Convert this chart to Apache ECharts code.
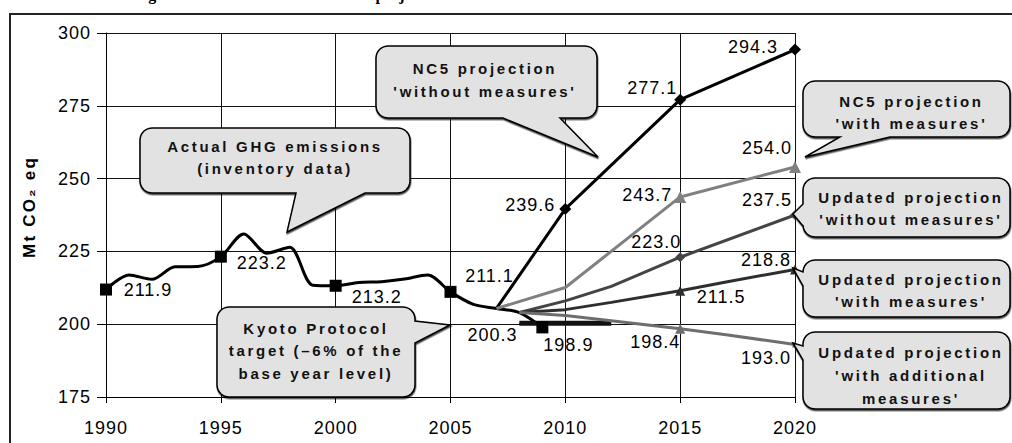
<!DOCTYPE html>
<html>
<head>
<meta charset="utf-8">
<script src="https://cdn.jsdelivr.net/npm/echarts@6/dist/echarts.min.js"></script>
<style>
html,body{margin:0;padding:0;background:#fff;}
#c{width:1012px;height:443px;}
text[style*="xcallout"]{letter-spacing:2.7px;}
text[style*="xnum"]{letter-spacing:1px;}
text[style*="xaxisname"]{letter-spacing:2.2px;}
</style>
</head>
<body>
<div id="c"></div>
<script>
// ---------------- DATA ----------------
const actualYears  = [1990,1991,1992,1993,1994,1995,1996,1997,1998,1999,2000,2001,2002,2003,2004,2005,2006,2007,2008,2009];
const actualValues = [211.9,216.9,215.4,219.7,219.8,223.2,231.0,224.4,226.4,213.4,213.2,214.3,214.6,215.5,216.9,211.1,206.8,205.4,204.0,198.9];
const actualMarkerYears = [1990,1995,2000,2005,2009];

const kyotoYears  = [2008,2012];
const kyotoValues = [200.3,200.3];

const nc5WithoutYears  = [2007,2010,2015,2020];
const nc5WithoutValues = [205.4,239.6,277.1,294.3];
const nc5WithYears  = [2007,2010,2015,2020];
const nc5WithValues = [205.4,212.6,243.7,254.0];
const updWithoutYears  = [2008,2010,2012,2015,2020];
const updWithoutValues = [204.0,208.0,213.0,223.0,237.5];
const updWithYears  = [2008,2010,2012,2015,2017,2020];
const updWithValues = [204.0,205.0,207.5,211.5,214.5,218.8];
const updAddYears  = [2008,2010,2012,2015,2017,2020];
const updAddValues = [204.0,203.0,201.2,198.4,196.4,193.0];

const xMin = 1990, xMax = 2020, xStep = 5;
const yMin = 175, yMax = 300, yStep = 25;
const yAxisTitle = 'Mt CO\u2082 eq';
const titleText = 'Changes in the total emissions and the projections';

const calloutTexts = {
  actual: ['Actual GHG emissions', '(inventory data)'],
  nc5Without: ['NC5 projection', "'without measures'"],
  nc5With: ['NC5 projection', "'with measures'"],
  updWithout: ['Updated projection', "'without measures'"],
  updWith: ['Updated projection', "'with measures'"],
  updAdd: ['Updated projection', "'with additional", "measures'"],
  kyoto: ['Kyoto Protocol', 'target (–6% of the', 'base year level)']
};

// ---------------- LAYOUT / STYLE ----------------
const SANS = 'Liberation Sans, Arial, sans-serif';
const labelOffset = {
  actual: {1990:[42,0],1995:[41,6],2000:[41,11],2005:[39,-16],2009:[26,18]},
  kyoto: {2008:[-27,12]},
  nc5Without: {2010:[-35,-4],2015:[-28,-12],2020:[-42,-3]},
  nc5With: {2015:[-33,-2],2020:[-28,-19]},
  updWithout: {2015:[-24,-15],2020:[-28,-15]},
  updWith: {2015:[41,6],2020:[-29,-9]},
  updAdd: {2015:[-25,13],2020:[-29,13]}
};

function buildData(years, values, markerYears, symbol, size, offsets, sizeOverride) {
  return years.map((yr, i) => {
    const item = { value: [yr, values[i]] };
    if (markerYears.indexOf(yr) >= 0) {
      item.symbol = symbol;
      item.symbolSize = (sizeOverride && sizeOverride[yr]) || size;
    } else {
      item.symbol = 'none';
    }
    if (offsets && offsets[yr]) {
      item.label = { show: true, position: 'inside', offset: offsets[yr] };
    }
    return item;
  });
}

const labelBase = {
  show: false,
  fontSize: 18,
  fontFamily: 'xnum, ' + SANS,
  color: '#000',
  textBorderWidth: 0,
  formatter: p => p.value[1].toFixed(1)
};

function lineSeries(name, data, color, width, smooth, z) {
  return {
    name, type: 'line', data, smooth: smooth || false,
    showSymbol: true, showAllSymbol: true, clip: false,
    lineStyle: { color, width },
    itemStyle: { color },
    label: Object.assign({}, labelBase),
    emphasis: { disabled: true },
    z: z || 2,
    animation: false
  };
}

const series = [
  lineSeries('Actual', buildData(actualYears, actualValues, actualMarkerYears, 'rect', 12, labelOffset.actual), '#000', 3, 0.3, 3),
  lineSeries('Kyoto', buildData(kyotoYears, kyotoValues, [2008], 'rect', 1, labelOffset.kyoto), '#111', 5, false, 3),
  lineSeries('NC5 without', buildData(nc5WithoutYears, nc5WithoutValues, [2010,2015,2020], 'diamond', 12, labelOffset.nc5Without), '#000', 3, false, 4),
  lineSeries('NC5 with', buildData(nc5WithYears, nc5WithValues, [2015,2020], 'triangle', 12, labelOffset.nc5With), '#808080', 3, false, 4),
  lineSeries('Updated without', buildData(updWithoutYears, updWithoutValues, [2015,2020], 'diamond', 10, labelOffset.updWithout), '#444444', 3, false, 4),
  lineSeries('Updated with', buildData(updWithYears, updWithValues, [2015,2020], 'triangle', 10, labelOffset.updWith), '#2e2e2e', 3, false, 4),
  lineSeries('Updated additional', buildData(updAddYears, updAddValues, [2015,2020], 'triangle', 10, labelOffset.updAdd, {2020: 6}), '#6e6e6e', 3, false, 4)
];

// callout bubble geometry (pixels)
const bubbleGeom = {
  actual:     {x:140,y:128,w:270,h:65,r:12, side:'bottom', a:365,b:296, tx:287,ty:232, cx:275, cy:157.5, lh:22},
  nc5Without: {x:376,y:46,w:221,h:72,r:12, side:'bottom', a:560,b:503, tx:598,ty:157, cx:485, cy:79.5, lh:23},
  nc5With:    {x:803,y:81,w:207,h:56,r:12, side:'bottom', a:890,b:840, tx:805,ty:157, cx:911.5, cy:112, lh:22},
  updWithout: {x:803,y:178,w:207,h:59,r:12, side:'left', a:226,b:204, tx:793,ty:214, cx:911, cy:208, lh:22},
  updWith:    {x:803,y:260,w:207,h:57,r:12, side:'left', a:286,b:272, tx:793,ty:268, cx:911, cy:290, lh:22},
  updAdd:     {x:803,y:332,w:207,h:77,r:12, side:'left', a:360,b:346, tx:793,ty:343, cx:911, cy:375.5, lh:23},
  kyoto:      {x:217,y:307,w:198,h:90,r:12, side:'right', a:321,b:343, tx:450,ty:325, cx:316, cy:350.5, lh:22.5}
};

function bubblePts(g) {
  const {x, y, w, h, r} = g;
  const R = x + w, B = y + h;
  const pts = [];
  const arc = (cx, cy, a0, a1) => {
    for (let i = 0; i <= 6; i++) {
      const a = a0 + (a1 - a0) * i / 6;
      pts.push([cx + r * Math.cos(a), cy + r * Math.sin(a)]);
    }
  };
  const P = Math.PI;
  pts.push([x + r, y]);
  if (g.side === 'top') { pts.push([g.a, y], [g.tx, g.ty], [g.b, y]); }
  arc(R - r, y + r, -P / 2, 0);
  if (g.side === 'right') { pts.push([R, g.a], [g.tx, g.ty], [R, g.b]); }
  arc(R - r, B - r, 0, P / 2);
  if (g.side === 'bottom') { pts.push([g.a, B], [g.tx, g.ty], [g.b, B]); }
  arc(x + r, B - r, P / 2, P);
  if (g.side === 'left') { pts.push([x, g.a], [g.tx, g.ty], [x, g.b]); }
  arc(x + r, y + r, P, 1.5 * P);
  return pts;
}

const graphics = [
  { type: 'rect', z: 0, silent: true,
    shape: { x: 10, y: 14, width: 1200, height: 700 },
    style: { fill: 'none', stroke: '#222', lineWidth: 2 } },
  { type: 'text', z: 1, silent: true,
    style: { text: titleText, x: 111, y: -6, font: 'bold 16px Liberation Serif, serif',
             align: 'left', textAlign: 'left', verticalAlign: 'middle', textVerticalAlign: 'middle', fill: '#000' } }
];
Object.keys(bubbleGeom).forEach(k => {
  const g = bubbleGeom[k];
  graphics.push({
    type: 'polygon', z: 20, silent: true,
    shape: { points: bubblePts(g) },
    style: { fill: '#e2e2e2', stroke: '#000', lineWidth: 1.5,
             shadowColor: 'rgba(0,0,0,0.7)', shadowOffsetX: 0.5, shadowOffsetY: 1.5, shadowBlur: 0.5 }
  });
  graphics.push({
    type: 'text', z: 21, silent: true,
    style: { text: calloutTexts[k].join('\n'), x: g.cx, y: g.cy,
             font: 'bold 15px xcallout, ' + SANS, lineHeight: g.lh,
             align: 'center', textAlign: 'center', verticalAlign: 'middle', textVerticalAlign: 'middle',
             fill: '#111' }
  });
});

const chart = echarts.init(document.getElementById('c'), null, { renderer: 'svg' });
chart.setOption({
  animation: false,
  backgroundColor: '#fff',
  grid: { left: 106, right: 217, top: 33, bottom: 46, containLabel: false, outerBoundsMode: 'none' },
  xAxis: {
    type: 'value', min: xMin, max: xMax, interval: xStep,
    axisLine: { show: true, onZero: false, lineStyle: { color: '#000', width: 1 } },
    axisTick: { show: true, length: 6, lineStyle: { color: '#000' } },
    axisLabel: { fontSize: 18, fontFamily: 'xnum, ' + SANS, color: '#000', margin: 22,
                 formatter: v => String(v) },
    splitLine: { show: true, lineStyle: { color: '#111', width: 1 } }
  },
  yAxis: {
    type: 'value', min: yMin, max: yMax, interval: yStep,
    name: yAxisTitle, nameLocation: 'middle', nameGap: 68, nameRotate: 90,
    nameTextStyle: {
      fontSize: 17, fontWeight: 'bold', fontFamily: 'xaxisname, ' + SANS, color: '#000',
      padding: [0, 0, 0, 16]
    },
    axisLine: { show: true, onZero: false, lineStyle: { color: '#000', width: 1 } },
    axisTick: { show: true, length: 9, lineStyle: { color: '#000' } },
    axisLabel: { fontSize: 18, fontFamily: 'xnum, ' + SANS, color: '#000', margin: 15,
                 formatter: v => String(v) },
    splitLine: { show: true, lineStyle: { color: '#111', width: 1 } }
  },
  series: series,
  graphic: { elements: graphics }
});
</script>
</body>
</html>
